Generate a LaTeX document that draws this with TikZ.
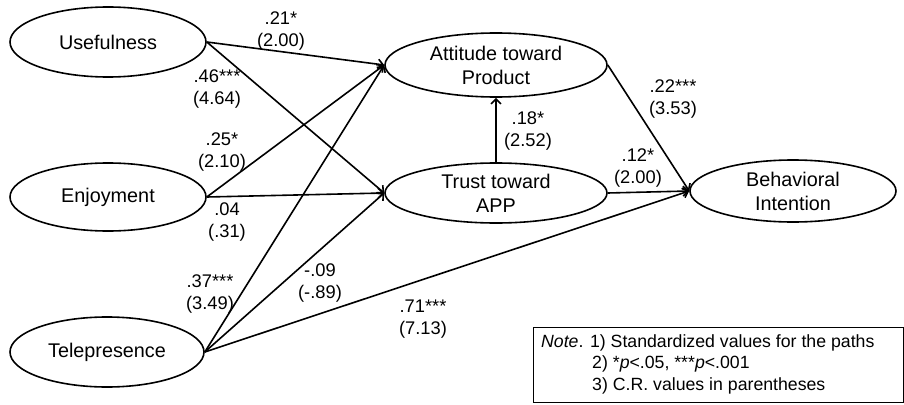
\documentclass[tikz,border=0pt]{standalone}
\usepackage{fontspec}
\setmainfont{Liberation Sans}
\usetikzlibrary{shapes.geometric,arrows.meta}
\begin{document}
\begin{tikzpicture}[x=1pt,y=-1pt,
  var/.style={draw,ellipse,line width=1.6pt,inner sep=0pt,align=center,
    font=\fontsize{19.8}{24}\selectfont},
  conn/.style={line width=1.6pt,-{Straight Barb[length=5pt,width=10pt,line width=1.6pt]}},
  lbl/.style={inner sep=0pt,align=center,font=\fontsize{18.3}{22}\selectfont}]
\useasboundingbox (0,0) rectangle (904,404);
% variables
\node[var,minimum width=196pt,minimum height=70pt] (use) at (108,42) {Usefulness};
\node[var,minimum width=196pt,minimum height=68pt] (enj) at (108,197) {Enjoyment};
\node[var,minimum width=194pt,minimum height=70pt] (tel) at (107,352) {Telepresence};
\node[var,minimum width=222pt,minimum height=64pt] (att) at (496,65) {Attitude toward\\Product};
\node[var,minimum width=222pt,minimum height=60pt] (tru) at (496,193) {Trust toward\\APP};
\node[var,minimum width=206pt,minimum height=62pt] (beh) at (793,191) {Behavioral\\Intention};
% paths
\draw[conn] (use.east) -- (att.west);
\draw[conn] (use.east) -- (tru.west);
\draw[conn] (enj.east) -- (att.west);
\draw[conn] (enj.east) -- (tru.west);
\draw[conn] (tel.east) -- (att.west);
\draw[conn] (tel.east) -- (tru.west);
\draw[conn] (tel.east) -- (beh.west);
\draw[conn] (tru.north) -- (att.south);
\draw[conn] (att.east) -- (beh.west);
\draw[conn] (tru.east) -- (beh.west);
% labels
\node[lbl] (l1) at (281,31) {.21*\\(2.00)};
\node[lbl] (l2) at (217,89) {.46***\\(4.64)};
\node[lbl] (l3) at (222,152) {.25*\\(2.10)};
\node[lbl] (l4) at (227,222) {.04\\(.31)};
\node[lbl] (l5) at (210,294) {.37***\\(3.49)};
\node[lbl] (l6) at (320,283) {-.09\\(-.89)};
\node[lbl] (l7) at (423,319) {.71***\\(7.13)};
\node[lbl] (l8) at (528,131) {.18*\\(2.52)};
\node[lbl] (l9) at (673,99) {.22***\\(3.53)};
\node[lbl] (l10) at (638,168) {.12*\\(2.00)};
% note
\node[draw,line width=1pt,anchor=north west,minimum width=370pt,minimum height=75pt,
  inner sep=0pt] (notebox) at (533,327) {};
\node[anchor=north west,inner sep=0pt,align=left,font=\fontsize{17.7}{21.7}\selectfont]
  (note) at (541,334) {\textit{Note}. 1) Standardized values for the paths\\
  \hspace*{51pt}2) *\textit{p}<.05, ***\textit{p}<.001\\
  \hspace*{51pt}3) C.R. values in parentheses};
\end{tikzpicture}
\end{document}
